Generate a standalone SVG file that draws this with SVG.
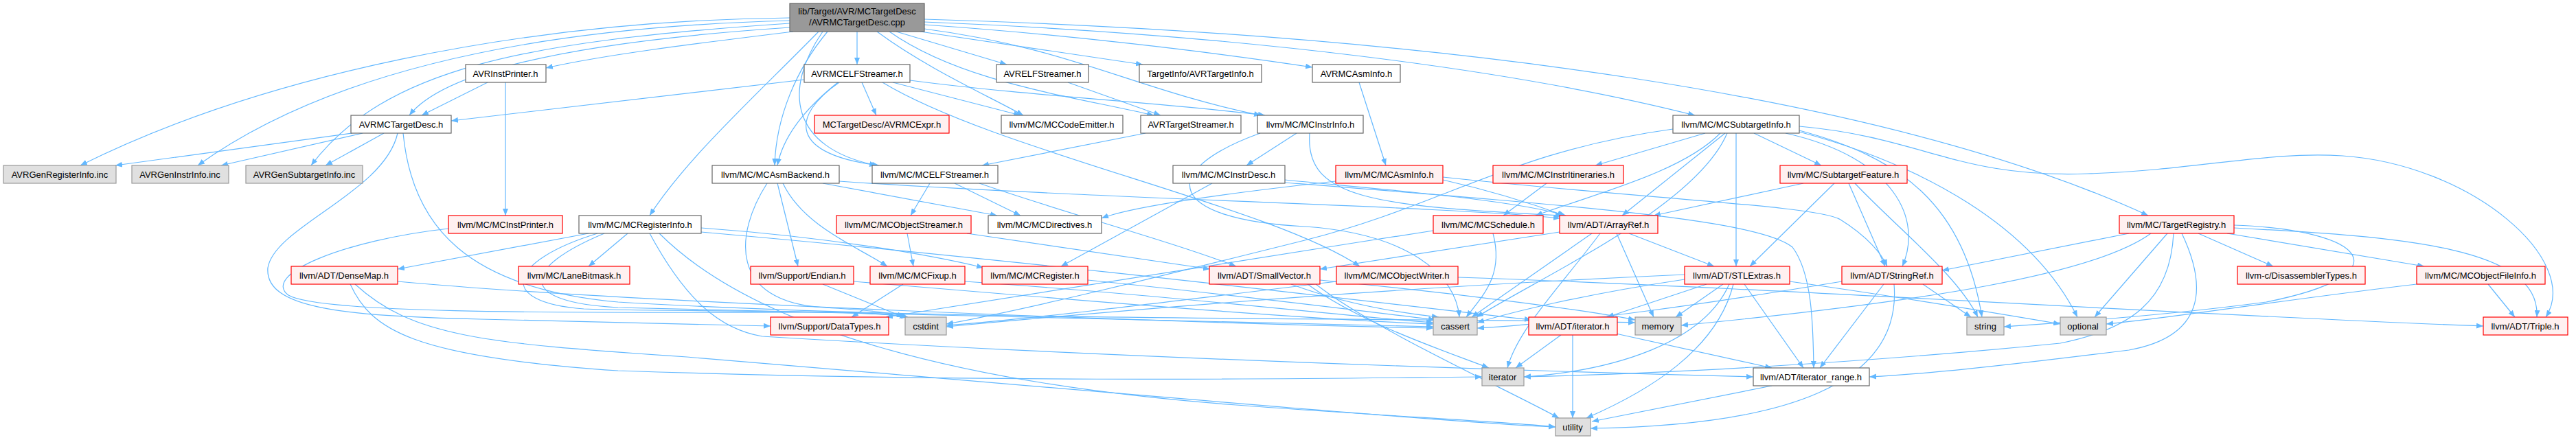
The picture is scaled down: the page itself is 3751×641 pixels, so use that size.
<svg xmlns="http://www.w3.org/2000/svg" width="3751" height="641" viewBox="0 0 3751 641">
<style>
rect{stroke-width:1.2}
.w{fill:#fff;stroke:#666}
.r{fill:#fff0f0;stroke:#f00}
.g{fill:#e0e0e0;stroke:#999}
.m{fill:#999;stroke:#666}
text{font-family:"Liberation Sans",Arial,sans-serif;font-size:13px;fill:#000;text-anchor:middle}
#edges path{fill:none;stroke:#63b8ff;stroke-width:1.2;marker-end:url(#ah)}
</style>
<defs>
<marker id="ah" markerUnits="userSpaceOnUse" markerWidth="10" markerHeight="8" refX="10" refY="4" orient="auto"><path d="M0,0 L10,4 L0,8 z" fill="#63b8ff"/></marker>
</defs>
<rect width="3751" height="641" fill="#fff"/>
<g id="edges">
<path d="M1150,26 C760,30 380,110 117,241"/>
<path d="M1150,30 C760,40 470,110 288,241"/>
<path d="M1150,34 C760,60 560,100 453,241"/>
<path d="M1150,40 C850,60 650,100 596,168"/>
<path d="M1155,46 C1000,65 880,80 795,99"/>
<path d="M1248,46 L1248,94"/>
<path d="M1305,46 L1466,94"/>
<path d="M1340,46 C1450,62 1560,78 1664,94"/>
<path d="M1346,36 C1550,50 1760,75 1911,98"/>
<path d="M1346,32 C1800,50 2200,100 2468,168"/>
<path d="M1346,28 C2100,50 2750,140 3128,314"/>
<path d="M1277,46 C1350,100 1440,140 1490,168"/>
<path d="M1295,46 C1400,120 1560,140 1680,168"/>
<path d="M1346,42 C1560,70 1650,130 1836,168"/>
<path d="M1205,46 C1160,100 1130,170 1128,241"/>
<path d="M1198,46 C1140,130 1150,215 1276,241"/>
<path d="M1192,46 C1100,140 1000,230 946,314"/>
<path d="M513,194 L168,241"/>
<path d="M528,194 L322,241"/>
<path d="M559,194 L474,241"/>
<path d="M579,194 C560,280 400,330 390,390 C385,450 500,460 700,465 C900,470 1050,473 1122,475"/>
<path d="M587,194 C600,330 680,420 900,440 C1400,470 2100,462 2381,470"/>
<path d="M710,120 L614,168"/>
<path d="M736,120 L736,314"/>
<path d="M1171,116 L657,176"/>
<path d="M1255,120 L1276,168"/>
<path d="M1220,120 C1170,160 1140,200 1132,241"/>
<path d="M1222,120 C1150,170 1150,225 1280,241"/>
<path d="M1300,120 L1486,168"/>
<path d="M1325,117 C1500,140 1700,150 1842,168"/>
<path d="M1285,120 C1450,220 1850,300 1980,388"/>
<path d="M1555,120 L1690,168"/>
<path d="M1668,194 L1430,241"/>
<path d="M1979,120 L2018,241"/>
<path d="M1888,194 L1815,241"/>
<path d="M1907,194 C1900,290 2000,300 2275,314"/>
<path d="M1835,194 C1680,250 1700,320 1900,330 C2050,340 2120,400 2125,462"/>
<path d="M1765,267 L1545,388"/>
<path d="M1871,262 C2000,275 2200,290 2280,314"/>
<path d="M1871,266 C2300,300 2560,320 2610,360 C2640,400 2640,480 2641,536"/>
<path d="M2483,194 L2323,241"/>
<path d="M2554,194 L2652,241"/>
<path d="M2505,194 C2450,250 2330,280 2236,314"/>
<path d="M2512,194 L2362,314"/>
<path d="M2528,194 L2528,388"/>
<path d="M2600,194 C2760,230 2800,320 2770,388"/>
<path d="M2620,184 C2800,200 2850,260 3040,253 C3200,248 3300,220 3411,227 C3600,240 3760,380 3707,462"/>
<path d="M2436,188 C2200,220 2100,300 1900,350 C1700,400 1500,450 1378,472"/>
<path d="M2515,194 C2470,300 2250,400 2150,462"/>
<path d="M2620,190 C2770,230 2860,300 2886,462"/>
<path d="M2620,192 C2800,240 2960,330 3025,462"/>
<path d="M1198,267 L1452,314"/>
<path d="M1140,267 C1170,330 1250,360 1292,388"/>
<path d="M1132,267 L1162,388"/>
<path d="M1117,267 C1070,340 1060,440 1200,448 C1270,452 1300,456 1322,462"/>
<path d="M1222,264 C1600,290 2100,300 2272,318"/>
<path d="M1354,267 L1326,314"/>
<path d="M1390,267 L1486,314"/>
<path d="M1426,267 C1550,310 1700,350 1800,388"/>
<path d="M1321,340 L1330,388"/>
<path d="M1408,340 L1762,392"/>
<path d="M857,340 L579,392"/>
<path d="M914,340 L857,388"/>
<path d="M1021,332 C1200,345 1350,370 1432,390"/>
<path d="M1021,338 C1500,380 2000,440 2230,466"/>
<path d="M946,340 C1000,440 1050,480 1110,490 C1600,520 2200,540 2553,549"/>
<path d="M960,340 C1100,480 1400,560 1800,590 C2000,605 2200,615 2265,622"/>
<path d="M870,340 C740,380 720,440 850,450 C1000,455 1250,450 1322,462"/>
<path d="M880,340 C760,390 750,440 900,448 C1400,460 1900,470 2087,476"/>
<path d="M653,333 C500,350 380,400 420,430 C470,460 900,455 1200,455 C1260,455 1300,458 1320,462"/>
<path d="M579,410 C900,440 1700,470 2087,478"/>
<path d="M510,414 C540,480 600,520 900,540 C1500,560 2000,550 2158,549"/>
<path d="M517,414 C600,490 700,500 1000,520 C1600,570 2100,615 2265,622"/>
<path d="M1198,414 L1316,462"/>
<path d="M1243,410 C1600,440 1900,465 2087,472"/>
<path d="M1315,414 L1240,462"/>
<path d="M1405,410 C1700,430 1950,460 2087,470"/>
<path d="M1584,408 C1800,430 2000,455 2090,466"/>
<path d="M1880,414 C1950,440 2030,455 2095,462"/>
<path d="M1904,414 C1980,470 2100,510 2168,536"/>
<path d="M1916,414 C2000,480 2200,570 2270,609"/>
<path d="M1922,408 C2100,425 2300,450 2381,466"/>
<path d="M2123,404 C2600,420 3200,460 3616,475"/>
<path d="M1946,410 C1700,440 1500,465 1378,474"/>
<path d="M2174,340 C2190,400 2160,430 2135,462"/>
<path d="M2087,336 C1800,380 1500,430 1290,462"/>
<path d="M2271,338 L1922,392"/>
<path d="M2372,340 L2496,388"/>
<path d="M2318,340 L2143,462"/>
<path d="M2330,340 C2270,420 2210,480 2195,536"/>
<path d="M2354,340 L2408,462"/>
<path d="M2453,407 C2300,430 2200,455 2151,470"/>
<path d="M2485,414 L2340,462"/>
<path d="M2509,414 L2440,462"/>
<path d="M2518,414 C2480,500 2350,540 2219,549"/>
<path d="M2540,414 L2626,536"/>
<path d="M2524,414 C2500,510 2400,570 2310,609"/>
<path d="M2453,400 C2000,420 1600,455 1378,476"/>
<path d="M2606,410 C2750,430 2900,455 3000,472"/>
<path d="M2743,414 L2650,536"/>
<path d="M2758,414 C2770,560 2600,620 2316,624"/>
<path d="M2682,410 C2500,440 2300,470 2151,478"/>
<path d="M2800,414 L2870,462"/>
<path d="M2273,488 L2207,536"/>
<path d="M2290,488 L2290,609"/>
<path d="M2353,486 L2580,536"/>
<path d="M2580,562 L2318,614"/>
<path d="M3100,340 L2828,394"/>
<path d="M3201,340 L3310,388"/>
<path d="M3243,340 L3530,388"/>
<path d="M3253,332 C3500,345 3700,360 3694,462"/>
<path d="M3253,328 C3450,335 3500,400 3300,440 C3150,460 3000,470 2918,476"/>
<path d="M3156,340 L3050,462"/>
<path d="M3132,340 C3050,400 2800,440 2448,474"/>
<path d="M3165,340 C3160,440 3100,480 3000,500 C2700,530 2400,545 2219,549"/>
<path d="M3177,340 C3215,420 3210,490 3100,510 C2900,535 2800,545 2722,549"/>
<path d="M3623,414 L3662,462"/>
<path d="M3519,414 C3300,440 3150,465 3067,472"/>
<path d="M2101,262 C2180,280 2240,300 2278,314"/>
<path d="M2101,258 C2400,290 2650,300 2680,320 C2720,345 2740,370 2748,388"/>
<path d="M1945,264 C1800,280 1650,300 1604,318"/>
<path d="M2252,267 L2189,314"/>
<path d="M2626,267 L2408,314"/>
<path d="M2671,267 L2548,388"/>
<path d="M2692,267 L2745,388"/>
<path d="M2701,267 C2760,330 2850,400 2880,462"/>
</g>
<g id="n_main"><rect class="m" x="1150" y="5" width="196" height="41"/><text x="1248" y="21">lib/Target/AVR/MCTargetDesc</text><text x="1248" y="37">/AVRMCTargetDesc.cpp</text></g>
<g id="n_avrinstprinter"><rect class="w" x="678" y="94" width="117" height="26"/><text x="736" y="111.5">AVRInstPrinter.h</text></g>
<g id="n_avrmcelfstreamer"><rect class="w" x="1171" y="94" width="154" height="26"/><text x="1248" y="111.5">AVRMCELFStreamer.h</text></g>
<g id="n_avrelfstreamer"><rect class="w" x="1451" y="94" width="134" height="26"/><text x="1518" y="111.5">AVRELFStreamer.h</text></g>
<g id="n_avrtargetinfo"><rect class="w" x="1659" y="94" width="178" height="26"/><text x="1748" y="111.5">TargetInfo/AVRTargetInfo.h</text></g>
<g id="n_avrmcasminfo"><rect class="w" x="1911" y="94" width="128" height="26"/><text x="1975" y="111.5">AVRMCAsmInfo.h</text></g>
<g id="n_avrmctargetdesc"><rect class="w" x="511" y="168" width="146" height="26"/><text x="584" y="185.5">AVRMCTargetDesc.h</text></g>
<g id="n_avrmcexpr"><rect class="r" x="1186" y="168" width="196" height="26"/><text x="1284" y="185.5">MCTargetDesc/AVRMCExpr.h</text></g>
<g id="n_mccodeemitter"><rect class="w" x="1458" y="168" width="177" height="26"/><text x="1546" y="185.5">llvm/MC/MCCodeEmitter.h</text></g>
<g id="n_avrtargetstreamer"><rect class="w" x="1661" y="168" width="146" height="26"/><text x="1734" y="185.5">AVRTargetStreamer.h</text></g>
<g id="n_mcinstrinfo"><rect class="w" x="1831" y="168" width="154" height="26"/><text x="1908" y="185.5">llvm/MC/MCInstrInfo.h</text></g>
<g id="n_mcsubtargetinfo"><rect class="w" x="2436" y="168" width="184" height="26"/><text x="2528" y="185.5">llvm/MC/MCSubtargetInfo.h</text></g>
<g id="n_genreg"><rect class="g" x="5" y="241" width="164" height="26"/><text x="87" y="258.5">AVRGenRegisterInfo.inc</text></g>
<g id="n_geninstr"><rect class="g" x="192" y="241" width="141" height="26"/><text x="262" y="258.5">AVRGenInstrInfo.inc</text></g>
<g id="n_gensubtarget"><rect class="g" x="358" y="241" width="170" height="26"/><text x="443" y="258.5">AVRGenSubtargetInfo.inc</text></g>
<g id="n_mcasmbackend"><rect class="w" x="1037" y="241" width="185" height="26"/><text x="1129" y="258.5">llvm/MC/MCAsmBackend.h</text></g>
<g id="n_mcelfstreamer"><rect class="w" x="1270" y="241" width="183" height="26"/><text x="1361" y="258.5">llvm/MC/MCELFStreamer.h</text></g>
<g id="n_mcinstrdesc"><rect class="w" x="1708" y="241" width="163" height="26"/><text x="1789" y="258.5">llvm/MC/MCInstrDesc.h</text></g>
<g id="n_mcasminfo"><rect class="r" x="1945" y="241" width="156" height="26"/><text x="2023" y="258.5">llvm/MC/MCAsmInfo.h</text></g>
<g id="n_mcinstritin"><rect class="r" x="2174" y="241" width="190" height="26"/><text x="2269" y="258.5">llvm/MC/MCInstrItineraries.h</text></g>
<g id="n_subtargetfeature"><rect class="r" x="2592" y="241" width="185" height="26"/><text x="2684" y="258.5">llvm/MC/SubtargetFeature.h</text></g>
<g id="n_mcinstprinter"><rect class="r" x="653" y="314" width="166" height="26"/><text x="736" y="331.5">llvm/MC/MCInstPrinter.h</text></g>
<g id="n_mcregisterinfo"><rect class="w" x="843" y="314" width="178" height="26"/><text x="932" y="331.5">llvm/MC/MCRegisterInfo.h</text></g>
<g id="n_mcobjectstreamer"><rect class="r" x="1218" y="314" width="196" height="26"/><text x="1316" y="331.5">llvm/MC/MCObjectStreamer.h</text></g>
<g id="n_mcdirectives"><rect class="w" x="1439" y="314" width="165" height="26"/><text x="1521" y="331.5">llvm/MC/MCDirectives.h</text></g>
<g id="n_mcschedule"><rect class="r" x="2087" y="314" width="160" height="26"/><text x="2167" y="331.5">llvm/MC/MCSchedule.h</text></g>
<g id="n_arrayref"><rect class="r" x="2271" y="314" width="143" height="26"/><text x="2342" y="331.5">llvm/ADT/ArrayRef.h</text></g>
<g id="n_targetregistry"><rect class="r" x="3086" y="314" width="167" height="26"/><text x="3169" y="331.5">llvm/MC/TargetRegistry.h</text></g>
<g id="n_densemap"><rect class="r" x="424" y="388" width="155" height="26"/><text x="501" y="405.5">llvm/ADT/DenseMap.h</text></g>
<g id="n_lanebitmask"><rect class="r" x="755" y="388" width="162" height="26"/><text x="836" y="405.5">llvm/MC/LaneBitmask.h</text></g>
<g id="n_endian"><rect class="r" x="1093" y="388" width="150" height="26"/><text x="1168" y="405.5">llvm/Support/Endian.h</text></g>
<g id="n_mcfixup"><rect class="r" x="1267" y="388" width="138" height="26"/><text x="1336" y="405.5">llvm/MC/MCFixup.h</text></g>
<g id="n_mcregister"><rect class="r" x="1430" y="388" width="154" height="26"/><text x="1507" y="405.5">llvm/MC/MCRegister.h</text></g>
<g id="n_smallvector"><rect class="r" x="1761" y="388" width="161" height="26"/><text x="1841" y="405.5">llvm/ADT/SmallVector.h</text></g>
<g id="n_mcobjectwriter"><rect class="r" x="1946" y="388" width="177" height="26"/><text x="2034" y="405.5">llvm/MC/MCObjectWriter.h</text></g>
<g id="n_stlextras"><rect class="r" x="2453" y="388" width="153" height="26"/><text x="2529" y="405.5">llvm/ADT/STLExtras.h</text></g>
<g id="n_stringref"><rect class="r" x="2682" y="388" width="146" height="26"/><text x="2755" y="405.5">llvm/ADT/StringRef.h</text></g>
<g id="n_disasm"><rect class="r" x="3258" y="388" width="186" height="26"/><text x="3351" y="405.5">llvm-c/DisassemblerTypes.h</text></g>
<g id="n_mcobjectfileinfo"><rect class="r" x="3519" y="388" width="187" height="26"/><text x="3612" y="405.5">llvm/MC/MCObjectFileInfo.h</text></g>
<g id="n_datatypes"><rect class="r" x="1122" y="462" width="172" height="26"/><text x="1208" y="479.5">llvm/Support/DataTypes.h</text></g>
<g id="n_cstdint"><rect class="g" x="1318" y="462" width="60" height="26"/><text x="1348" y="479.5">cstdint</text></g>
<g id="n_cassert"><rect class="g" x="2087" y="462" width="64" height="26"/><text x="2119" y="479.5">cassert</text></g>
<g id="n_iteratorh"><rect class="r" x="2226" y="462" width="129" height="26"/><text x="2290" y="479.5">llvm/ADT/iterator.h</text></g>
<g id="n_memory"><rect class="g" x="2381" y="462" width="67" height="26"/><text x="2414" y="479.5">memory</text></g>
<g id="n_string"><rect class="g" x="2864" y="462" width="54" height="26"/><text x="2891" y="479.5">string</text></g>
<g id="n_optional"><rect class="g" x="3000" y="462" width="67" height="26"/><text x="3033" y="479.5">optional</text></g>
<g id="n_triple"><rect class="r" x="3616" y="462" width="123" height="26"/><text x="3677" y="479.5">llvm/ADT/Triple.h</text></g>
<g id="n_iterator"><rect class="g" x="2158" y="536" width="61" height="26"/><text x="2188" y="553.5">iterator</text></g>
<g id="n_iteratorrange"><rect class="w" x="2553" y="536" width="169" height="26"/><text x="2637" y="553.5">llvm/ADT/iterator_range.h</text></g>
<g id="n_utility"><rect class="g" x="2265" y="609" width="51" height="26"/><text x="2290" y="626.5">utility</text></g>
</svg>
